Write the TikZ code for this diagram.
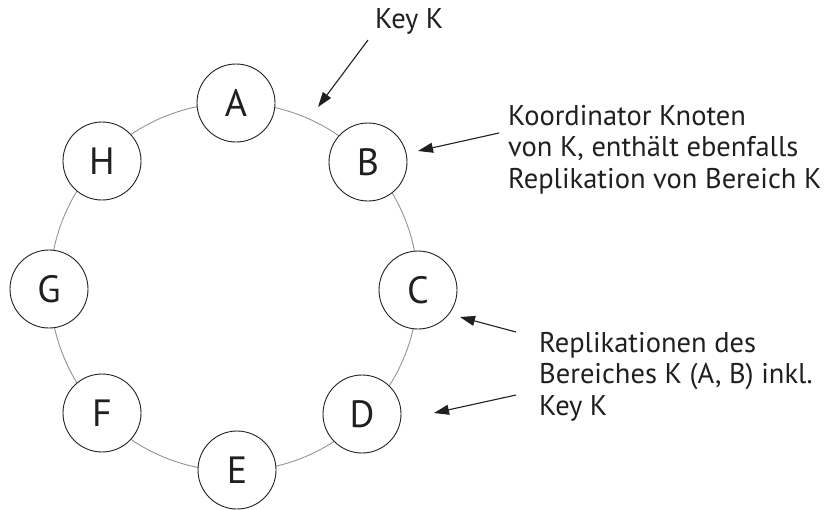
\documentclass[tikz,border=0pt]{standalone}
\usepackage{fontspec}
\setmainfont{PT Sans}
\usetikzlibrary{arrows.meta}
\definecolor{ink}{HTML}{231F20}
\begin{document}
\begin{tikzpicture}[x=1pt,y=-1pt,
  peer/.style={circle,draw=ink,line width=0.9pt,fill=white,minimum size=78pt,
    inner sep=0pt,text=ink,font=\fontsize{38}{40}\selectfont},
  note/.style={anchor=base west,inner sep=0pt,align=left,text=ink,
    font=\fontsize{28.5}{31.5}\selectfont},
  pointer/.style={draw=ink,line width=1.1pt,-{Triangle[length=15pt,width=10pt]}},
  ring/.style={draw=black!42,line width=0.9pt}]
\useasboundingbox (0,0) rectangle (826,509);

% the ring of the key space
\draw[ring] (234,287) circle[radius=184];

% peers on the ring
\node[peer] (A) at (236,103) {A};
\node[peer] (B) at (368,162) {B};
\node[peer] (C) at (418,290) {C};
\node[peer] (D) at (362,414) {D};
\node[peer] (E) at (237,470) {E};
\node[peer] (F) at (102,413) {F};
\node[peer] (G) at (49,289) {G};
\node[peer] (H) at (102,161) {H};

% annotations (base anchor sits on the last line)
\node[note] (key) at (375,28) {Key K};
\node[note] (coord) at (508,188) {Koordinator Knoten\\von K, enthält ebenfalls\\Replikation von Bereich K};
\node[note] (repl) at (539,415) {Replikationen des\\Bereiches K (A, B) inkl.\\Key K};

% pointers
\coordinate (keypos) at (318,107);
\coordinate (ptB) at (418,151);
\coordinate (ptC) at (460,317);
\coordinate (ptD) at (434,413);
\draw[pointer] (368,40) -- (keypos);
\draw[pointer] (499,133) -- (ptB);
\draw[pointer] (516,332) -- (ptC);
\draw[pointer] (516,395) -- (ptD);
\end{tikzpicture}
\end{document}
